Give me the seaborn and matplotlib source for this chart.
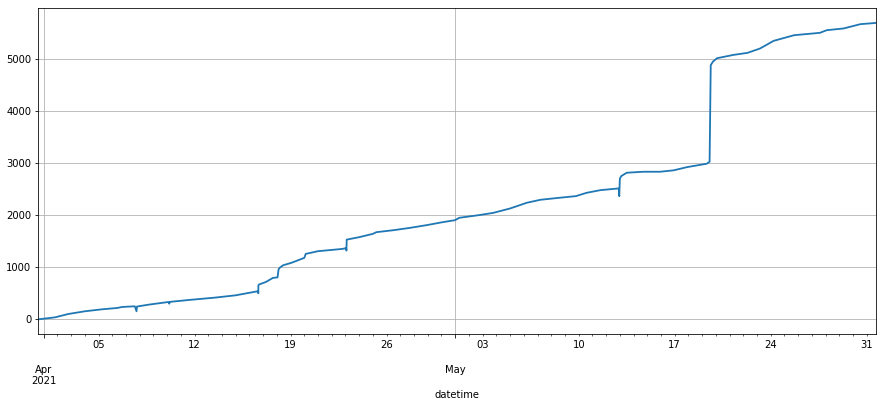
import seaborn as sns
import pandas as pd
import matplotlib
matplotlib.use("Agg")
import matplotlib.pyplot as plt
import matplotlib.dates as mdates
from matplotlib.ticker import FuncFormatter

# cumulative count
timestamps = [
    "2021-03-31 15:00", "2021-04-01 20:00", "2021-04-02 19:00", "2021-04-04 00:00",
    "2021-04-05 06:00", "2021-04-06 09:00", "2021-04-06 17:00", "2021-04-07 15:30",
    "2021-04-07 18:30", "2021-04-07 19:10", "2021-04-08 16:00", "2021-04-10 02:30",
    "2021-04-10 03:40", "2021-04-10 05:00", "2021-04-11 14:30", "2021-04-13 12:00",
    "2021-04-15 00:00", "2021-04-16 14:00", "2021-04-16 15:20", "2021-04-16 15:30",
    "2021-04-16 15:40", "2021-04-16 16:30", "2021-04-17 05:00", "2021-04-17 17:00",
    "2021-04-18 01:10", "2021-04-18 03:00", "2021-04-18 05:00", "2021-04-18 11:00",
    "2021-04-19 01:00", "2021-04-20 00:00", "2021-04-20 02:30", "2021-04-21 00:00",
    "2021-04-22 19:00", "2021-04-23 01:10", "2021-04-23 01:40", "2021-04-23 02:10",
    "2021-04-24 00:00", "2021-04-25 00:00", "2021-04-25 06:00", "2021-04-26 12:00",
    "2021-04-27 17:00", "2021-04-28 22:00", "2021-04-30 02:00", "2021-05-01 00:00",
    "2021-05-01 07:00", "2021-05-02 13:30", "2021-05-03 12:00", "2021-05-03 19:00",
    "2021-05-05 00:00", "2021-05-06 05:00", "2021-05-07 05:00", "2021-05-08 14:00",
    "2021-05-09 19:00", "2021-05-10 14:00", "2021-05-11 14:00", "2021-05-12 22:00",
    "2021-05-12 23:00", "2021-05-13 00:00", "2021-05-13 02:30", "2021-05-13 12:00",
    "2021-05-14 17:00", "2021-05-15 22:00", "2021-05-16 22:00", "2021-05-17 22:00",
    "2021-05-19 08:00", "2021-05-19 13:00", "2021-05-19 15:00", "2021-05-19 19:00",
    "2021-05-20 02:00", "2021-05-21 07:00", "2021-05-22 07:00", "2021-05-23 05:00",
    "2021-05-24 05:00", "2021-05-25 17:00", "2021-05-27 14:00", "2021-05-28 02:00",
    "2021-05-29 07:00", "2021-05-30 13:00", "2021-05-31 16:00",
]
counts = [
    0, 38, 102, 154,
    192, 218, 237, 250,
    154, 245, 282, 333,
    300, 335, 372, 417,
    461, 538, 540, 500,
    650, 667, 718, 795,
    805, 960, 990, 1038,
    1083, 1180, 1256, 1308,
    1352, 1368, 1320, 1530,
    1577, 1641, 1673, 1711,
    1756, 1808, 1865, 1904,
    1949, 1994, 2032, 2045,
    2128, 2237, 2295, 2333,
    2365, 2429, 2480, 2513,
    2365, 2700, 2750, 2814,
    2833, 2833, 2860, 2923,
    2987, 3025, 4880, 4949,
    5013, 5077, 5115, 5198,
    5346, 5455, 5500, 5551,
    5583, 5667, 5690,
]

df = pd.DataFrame({"datetime": pd.to_datetime(timestamps), "count": counts})

fig = plt.figure(figsize=(883 / 72, 406 / 72), dpi=72)
ax = fig.add_axes([0.0436, 0.177, 0.9484, 0.803])

sns.lineplot(data=df, x="datetime", y="count", estimator=None, sort=True,
             color="#1f77b4", linewidth=1.8, ax=ax)
ax.set_xlim(df["datetime"].min(), df["datetime"].max())
ax.set_ylabel("")


# pandas-like date axis: months as major, days as minor (weekly labels)
def major_fmt(x, pos):
    d = mdates.num2date(x)
    if pos == 0:
        return "\n\n" + d.strftime("%b\n%Y")
    return "\n\n" + d.strftime("%b")


def minor_fmt(x, pos):
    d = mdates.num2date(x)
    return d.strftime("%d") if d.weekday() == 0 else ""


ax.xaxis.set_major_locator(mdates.MonthLocator())
ax.xaxis.set_major_formatter(FuncFormatter(major_fmt))
ax.xaxis.set_minor_locator(mdates.DayLocator())
ax.xaxis.set_minor_formatter(FuncFormatter(minor_fmt))
ax.tick_params(axis="x", which="major", length=4)
ax.tick_params(axis="x", which="minor", length=2)
for lbl in ax.get_xticklabels():
    lbl.set_ha("center")

ax.grid(True, which="major", color="#b0b0b0", linewidth=0.8)
ax.grid(False, which="minor")

fig.savefig("out.png", dpi=72)
